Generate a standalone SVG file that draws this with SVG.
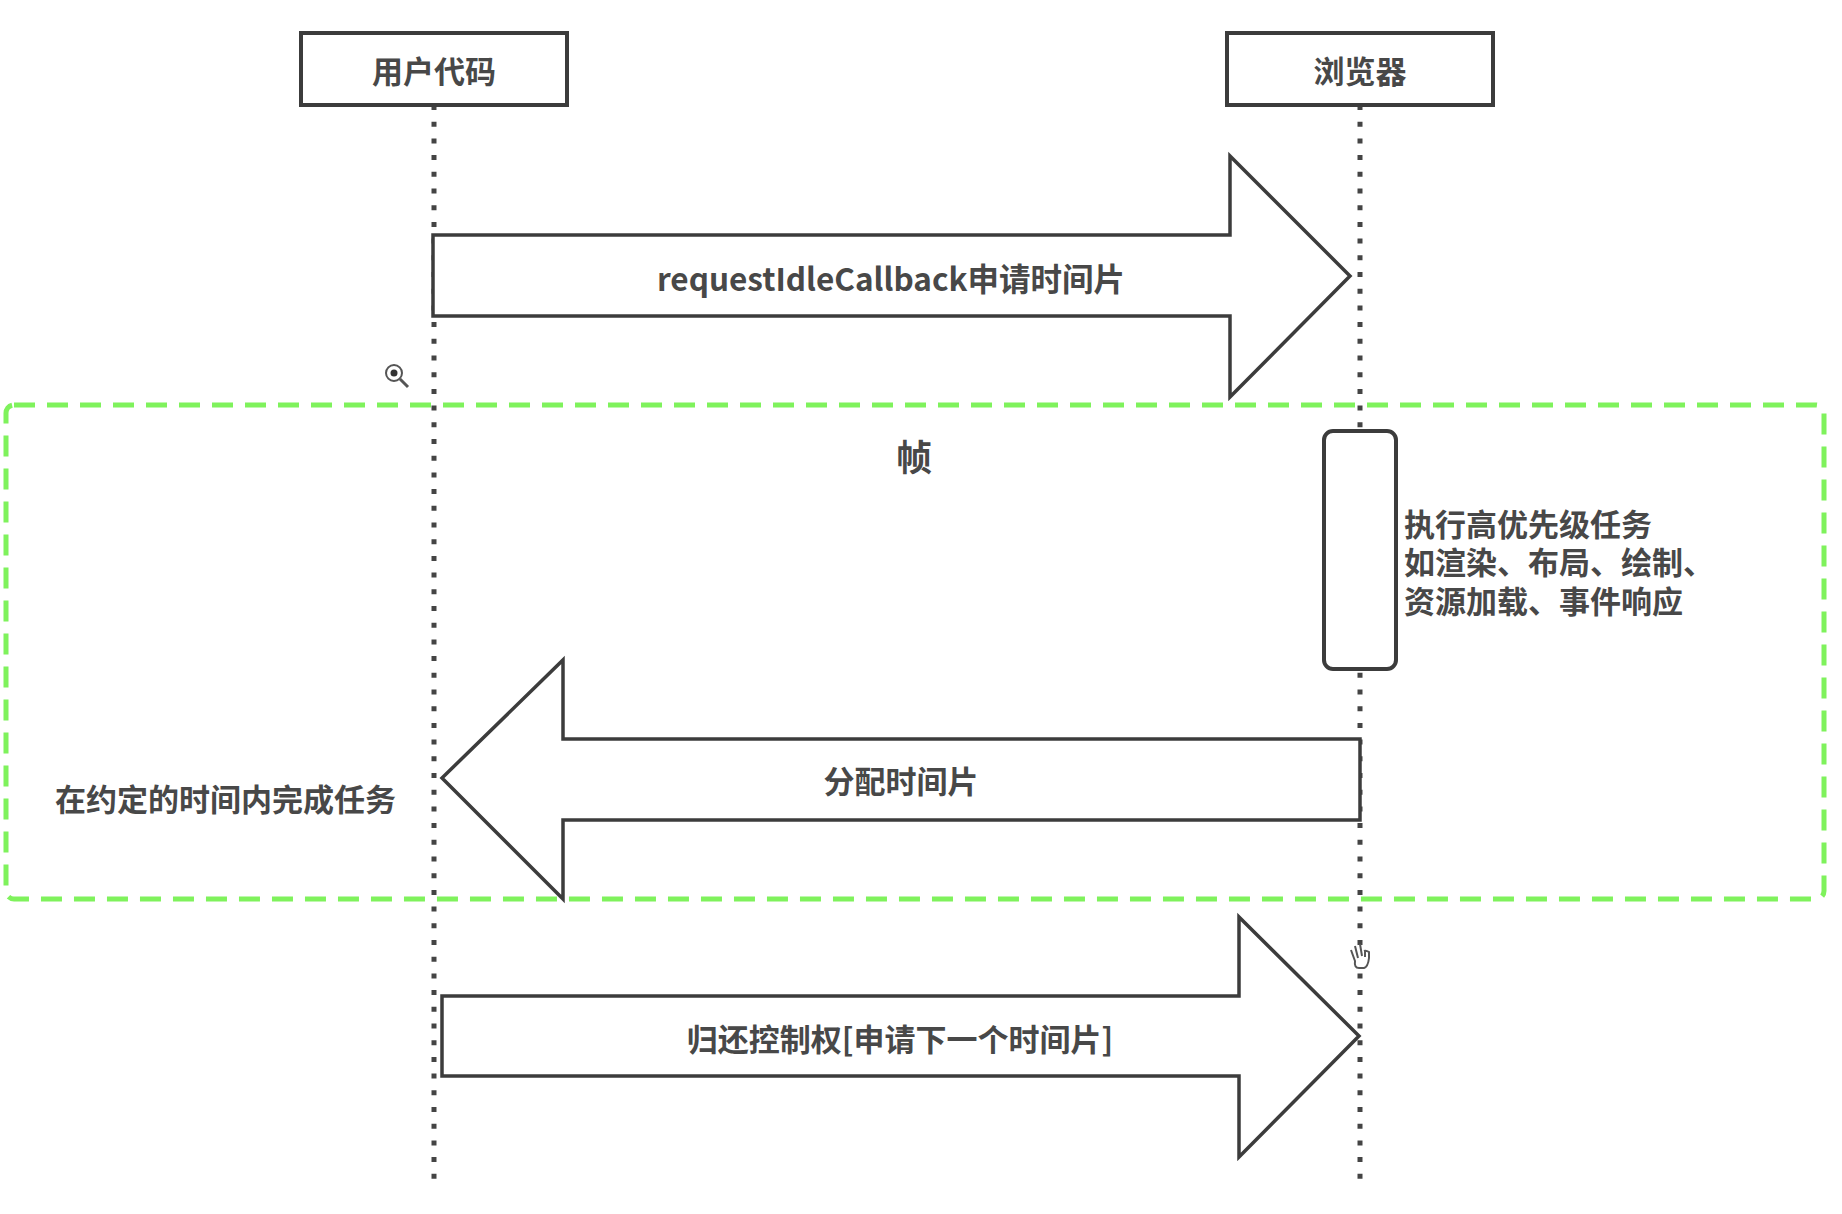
<svg xmlns="http://www.w3.org/2000/svg" width="1842" height="1214" viewBox="0 0 1842 1214">
  <style>
    text { font-family: "Noto Sans CJK SC", "Noto Sans", sans-serif; font-size: 31px; font-weight: 700; fill: #484848; }
    .mid { text-anchor: middle; }
    .box { fill: #fff; stroke: #3c3c3c; stroke-width: 4; }
    .arrow { fill: #fff; stroke: #3c3c3c; stroke-width: 3.5; stroke-linejoin: miter; }
    .life { fill: none; stroke: #444; stroke-width: 5; stroke-dasharray: 5 11.7; }
    .frame { fill: none; stroke: #7ff25c; stroke-width: 5; stroke-dasharray: 21 12; }
    .cursor { fill: none; stroke: #555; stroke-width: 2; }
  </style>
  <rect width="1842" height="1214" fill="#fff"/>

  <g id="frame">
    <rect class="frame" x="6" y="405" width="1818" height="494" rx="8"/>
    <text class="mid" x="914" y="471" style="font-size:36px">帧</text>
  </g>

  <g id="connectors">
    <path class="life" d="M434 105V1180"/>
    <path class="life" d="M1360 105V1180"/>
    <path id="request" class="arrow" d="M433 235H1230V156L1350 276L1230 397V316H433Z"/>
    <path id="grant" class="arrow" d="M1360 739H563V660L442 778L563 899V820H1360Z"/>
    <path id="return" class="arrow" d="M442 996H1239V917L1359 1036L1239 1157V1076H442Z"/>
    <text class="mid" x="891" y="291" style="font-size:31.5px">requestIdleCallback申请时间片</text>
    <text class="mid" x="901" y="793">分配时间片</text>
    <text class="mid" x="900" y="1051">归还控制权[申请下一个时间片]</text>
  </g>

  <g id="user-code">
    <rect class="box" x="301" y="33" width="266" height="72"/>
    <text class="mid" x="434" y="83">用户代码</text>
  </g>

  <g id="browser">
    <rect class="box" x="1227" y="33" width="266" height="72"/>
    <text class="mid" x="1360" y="83">浏览器</text>
  </g>

  <g id="browser-tasks">
    <rect class="box" x="1324" y="431" width="72" height="238" rx="9"/>
    <text x="1404" y="536">执行高优先级任务<tspan x="1404" y="574">如渲染、布局、绘制、</tspan><tspan x="1404" y="613">资源加载、事件响应</tspan></text>
  </g>

  <g id="user-task">
    <text x="55" y="811">在约定的时间内完成任务</text>
  </g>

  <g id="zoom-cursor">
    <circle class="cursor" cx="394" cy="373" r="8"/>
    <circle cx="394" cy="373" r="3.5" fill="#333"/>
    <path class="cursor" d="M400 379L408 387" style="stroke-width:3"/>
  </g>
  <g id="hand-cursor">
    <path class="cursor" d="M1351 950L1355 961Q1354 968 1359 968H1364Q1368 967 1369 958V952Q1366 950 1364 951M1355 946L1358 958M1360 944L1362 956M1365 950V957" style="fill:#fff"/>
  </g>
</svg>
